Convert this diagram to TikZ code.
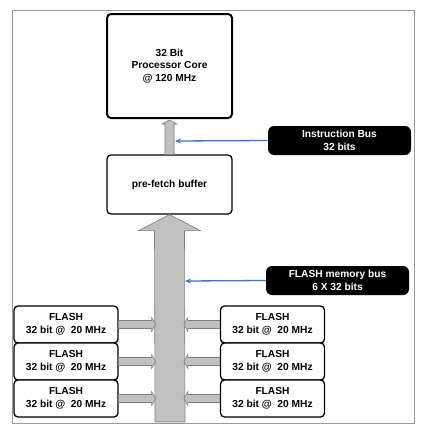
\documentclass[tikz,border=0pt]{standalone}
\usepackage{fontspec}
\setmainfont{Liberation Sans}
\usetikzlibrary{calc,arrows.meta}
\definecolor{busblue}{HTML}{4472C4}
\definecolor{fatfill}{HTML}{C0C0C0}
\definecolor{fatline}{HTML}{7F7F7F}
\definecolor{framegray}{HTML}{9A9A9A}
\tikzset{
  txt/.style={font=\fontsize{10.2}{12.7}\selectfont\bfseries, align=center},
  blockbox/.style={txt, draw=black, line width=1.3pt, rounded corners=4pt, fill=white, inner sep=0pt},
  corebox/.style={blockbox, line width=2pt},
  flashbox/.style={blockbox, minimum width=104pt, minimum height=37pt},
  tagbox/.style={txt, fill=black, text=white, rounded corners=6pt, minimum width=143pt, minimum height=29pt, inner sep=0pt},
  fatarrow/.style={fill=fatfill, draw=fatline, line width=0.6pt, line join=miter},
  buslink/.style={draw=busblue, line width=1.3pt, -{Stealth[length=6pt,width=5pt]}}
}
\begin{document}
\begin{tikzpicture}[x=1pt,y=-1pt]
\useasboundingbox (0,0) rectangle (425,431);
\fill[white] (0,0) rectangle (425,431);
\draw[framegray, line width=1pt] (12,10) rectangle (414,423);
\coordinate (busfoot) at (170,422);

\node[corebox, minimum width=125pt, minimum height=104pt] (core) at (169.5,66) {32 Bit\\Processor Core\\@ 120 MHz};
\node[blockbox, minimum width=125pt, minimum height=59pt] (pre) at (169.5,184.5) {pre-fetch buffer};

% big FLASH bus arrow
\draw[fatarrow] ($(busfoot)+(-15,0)$) -- ($(pre.south)+(-15,16)$) -- ($(pre.south)+(-31,16)$) -- (pre.south)
  -- ($(pre.south)+(31,16)$) -- ($(pre.south)+(15,16)$) -- ($(busfoot)+(15,0)$) -- cycle;

% small instruction bus arrow
\draw[fatarrow] ($(pre.north)+(-4.5,0)$) -- ($(core.south)+(-4.5,5)$) -- ($(core.south)+(-7.5,5)$) -- ($(core.south)+(0,1)$)
  -- ($(core.south)+(7.5,5)$) -- ($(core.south)+(4.5,5)$) -- ($(pre.north)+(4.5,0)$) -- cycle;

\node[tagbox] (ib) at (339.5,140.5) {Instruction Bus\\32 bits};
\node[tagbox] (fm) at (337.5,280.5) {FLASH memory bus\\6 X 32 bits};
\coordinate (ibtip) at (175,141);
\coordinate (fmtip) at (185,281);
\draw[buslink] (ib.west) -- (ibtip);
\draw[buslink] (fm.west) -- (fmtip);

\node[flashbox] (l1) at (66,324.5) {FLASH\\32 bit @\ \ 20 MHz};
\node[flashbox] (l2) at (66,361.5) {FLASH\\32 bit @\ \ 20 MHz};
\node[flashbox] (l3) at (66,398.5) {FLASH\\32 bit @\ \ 20 MHz};
\node[flashbox] (r1) at (272.5,324.5) {FLASH\\32 bit @\ \ 20 MHz};
\node[flashbox] (r2) at (272.5,361.5) {FLASH\\32 bit @\ \ 20 MHz};
\node[flashbox] (r3) at (272.5,398.5) {FLASH\\32 bit @\ \ 20 MHz};

\foreach \n in {l1,l2,l3}{
  \draw[fatarrow] ($(\n.east)+(0,-4)$) -- ($(\n.east)+(33,-4)$) -- ($(\n.east)+(33,-7)$) -- ($(\n.east)+(37,0)$)
    -- ($(\n.east)+(33,7)$) -- ($(\n.east)+(33,4)$) -- ($(\n.east)+(0,4)$) -- cycle;
}
\foreach \n in {r1,r2,r3}{
  \draw[fatarrow] ($(\n.west)+(0,-4)$) -- ($(\n.west)+(-32,-4)$) -- ($(\n.west)+(-32,-7)$) -- ($(\n.west)+(-36,0)$)
    -- ($(\n.west)+(-32,7)$) -- ($(\n.west)+(-32,4)$) -- ($(\n.west)+(0,4)$) -- cycle;
}
\end{tikzpicture}
\end{document}
